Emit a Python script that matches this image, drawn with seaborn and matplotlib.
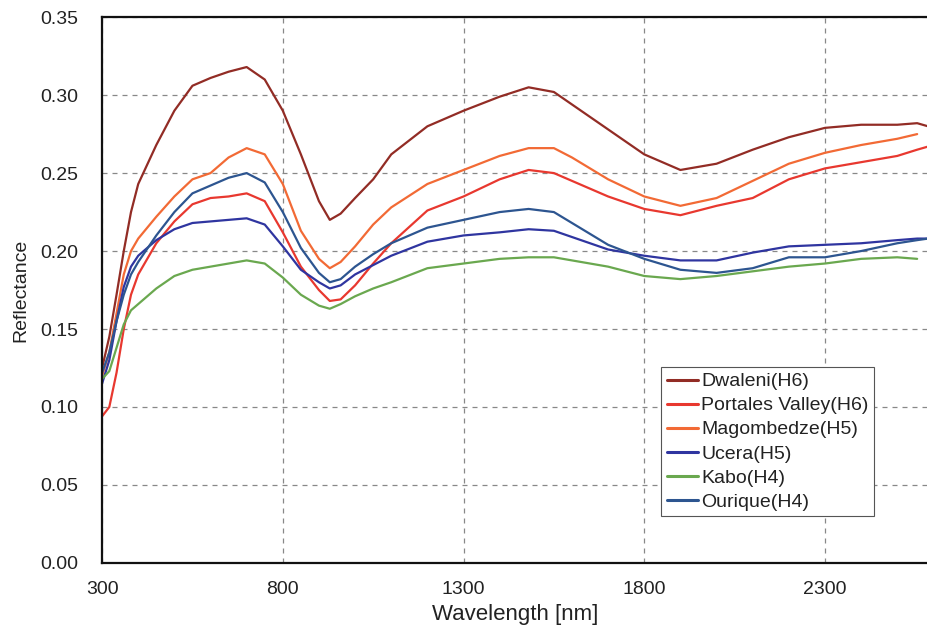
import numpy as np
import pandas as pd
import matplotlib
matplotlib.use("Agg")
import matplotlib.pyplot as plt
import seaborn as sns

wavelength = [300, 320, 340, 360, 380, 400, 450, 500, 550, 600, 650, 700, 750, 800, 850,
              900, 930, 960, 1000, 1050, 1100, 1200, 1300, 1400, 1480, 1550, 1600, 1700,
              1800, 1900, 2000, 2100, 2200, 2300, 2400, 2500, 2555, 2585]

dwaleni = [0.125, 0.145, 0.172, 0.200, 0.225, 0.243, 0.268, 0.290, 0.306, 0.311, 0.315, 0.318,
           0.310, 0.290, 0.262, 0.232, 0.220, 0.224, 0.234, 0.246, 0.262, 0.280, 0.290, 0.299,
           0.305, 0.302, 0.294, 0.278, 0.262, 0.252, 0.256, 0.265, 0.273, 0.279, 0.281, 0.281,
           0.282, 0.280]
portales = [0.094, 0.100, 0.122, 0.150, 0.172, 0.185, 0.205, 0.219, 0.230, 0.234, 0.235, 0.237,
            0.232, 0.212, 0.190, 0.175, 0.168, 0.169, 0.178, 0.192, 0.205, 0.226, 0.235, 0.246,
            0.252, 0.250, 0.245, 0.235, 0.227, 0.223, 0.229, 0.234, 0.246, 0.253, 0.257, 0.261,
            0.265, 0.267]
magombedze = [0.120, 0.135, 0.160, 0.185, 0.200, 0.208, 0.222, 0.235, 0.246, 0.250, 0.260, 0.266,
              0.262, 0.243, 0.213, 0.195, 0.189, 0.193, 0.203, 0.217, 0.228, 0.243, 0.252, 0.261,
              0.266, 0.266, 0.260, 0.246, 0.235, 0.229, 0.234, 0.245, 0.256, 0.263, 0.268, 0.272,
              0.275]
ucera = [0.115, 0.130, 0.155, 0.177, 0.190, 0.197, 0.207, 0.214, 0.218, 0.219, 0.220, 0.221,
         0.217, 0.203, 0.188, 0.180, 0.176, 0.178, 0.185, 0.191, 0.197, 0.206, 0.210, 0.212,
         0.214, 0.213, 0.209, 0.201, 0.197, 0.194, 0.194, 0.199, 0.203, 0.204, 0.205, 0.207,
         0.208, 0.208]
kabo = [0.118, 0.123, 0.138, 0.153, 0.162, 0.166, 0.176, 0.184, 0.188, 0.190, 0.192, 0.194,
        0.192, 0.183, 0.172, 0.165, 0.163, 0.166, 0.171, 0.176, 0.180, 0.189, 0.192, 0.195,
        0.196, 0.196, 0.194, 0.190, 0.184, 0.182, 0.184, 0.187, 0.190, 0.192, 0.195, 0.196,
        0.195]
ourique = [0.122, 0.135, 0.155, 0.172, 0.185, 0.193, 0.210, 0.225, 0.237, 0.242, 0.247, 0.250,
           0.244, 0.225, 0.202, 0.186, 0.180, 0.182, 0.190, 0.198, 0.205, 0.215, 0.220, 0.225,
           0.227, 0.225, 0.218, 0.204, 0.195, 0.188, 0.186, 0.189, 0.196, 0.196, 0.200, 0.205,
           0.207, 0.208]

series_names = ["Dwaleni(H6)", "Portales Valley(H6)", "Magombedze(H5)", "Ucera(H5)",
                "Kabo(H4)", "Ourique(H4)"]
series_values = [dwaleni, portales, magombedze, ucera, kabo, ourique]
colors = ["#922c25", "#e8382f", "#f26a35", "#2f35a0", "#6aa84f", "#2d5590"]

x_ticks = [300, 800, 1300, 1800, 2300]
y_ticks = [0.00, 0.05, 0.10, 0.15, 0.20, 0.25, 0.30, 0.35]

rows = []
for name, vals in zip(series_names, series_values):
    for w, v in zip(wavelength, vals):
        rows.append({"Wavelength": w, "Reflectance": v, "Sample": name})
df = pd.DataFrame(rows)

sns.set_style("white")
plt.rcParams["font.family"] = ["Liberation Sans", "DejaVu Sans"]

fig = plt.figure(figsize=(9.28, 6.35), dpi=100)
ax = fig.add_axes([0.110, 0.1135, 0.890, 0.8595])

sns.lineplot(data=df, x="Wavelength", y="Reflectance", hue="Sample",
             hue_order=series_names, palette=colors, linewidth=1.6, ax=ax, sort=False)

ax.set_xlim(300, 2585)
ax.set_ylim(0, 0.35)
ax.set_xticks(x_ticks)
ax.set_yticks(y_ticks)
ax.set_xticklabels([str(t) for t in x_ticks], fontsize=14, color="#222222")
ax.set_yticklabels([f"{t:.2f}" for t in y_ticks], fontsize=14, color="#222222")
ax.tick_params(axis="x", length=0, pad=13)
ax.tick_params(axis="y", length=0, pad=17)

ax.grid(True, linestyle=(0, (4, 4)), color="#888888", linewidth=0.9)
for side in ["left", "bottom", "top"]:
    ax.spines[side].set_visible(True)
    ax.spines[side].set_color("#111111")
    ax.spines[side].set_linewidth(1.6)
ax.spines["right"].set_visible(False)

ax.set_xlabel("Wavelength [nm]", fontsize=16, color="#222222")
ax.set_ylabel("Reflectance", fontsize=14, color="#222222")
ax.xaxis.labelpad = 4
ax.yaxis.labelpad = 8

leg = ax.legend(loc="upper left", bbox_to_anchor=(0.677, 0.359), borderaxespad=0,
                frameon=True, fancybox=False, edgecolor="#555555", framealpha=1.0,
                handlelength=1.6, handletextpad=0.15, borderpad=0.3,
                labelspacing=0.33, prop={"size": 14})
leg.get_frame().set_linewidth(0.8)
for text in leg.get_texts():
    text.set_color("#222222")
for line in leg.get_lines():
    line.set_linewidth(2.2)

fig.savefig("out.png", dpi=100)
